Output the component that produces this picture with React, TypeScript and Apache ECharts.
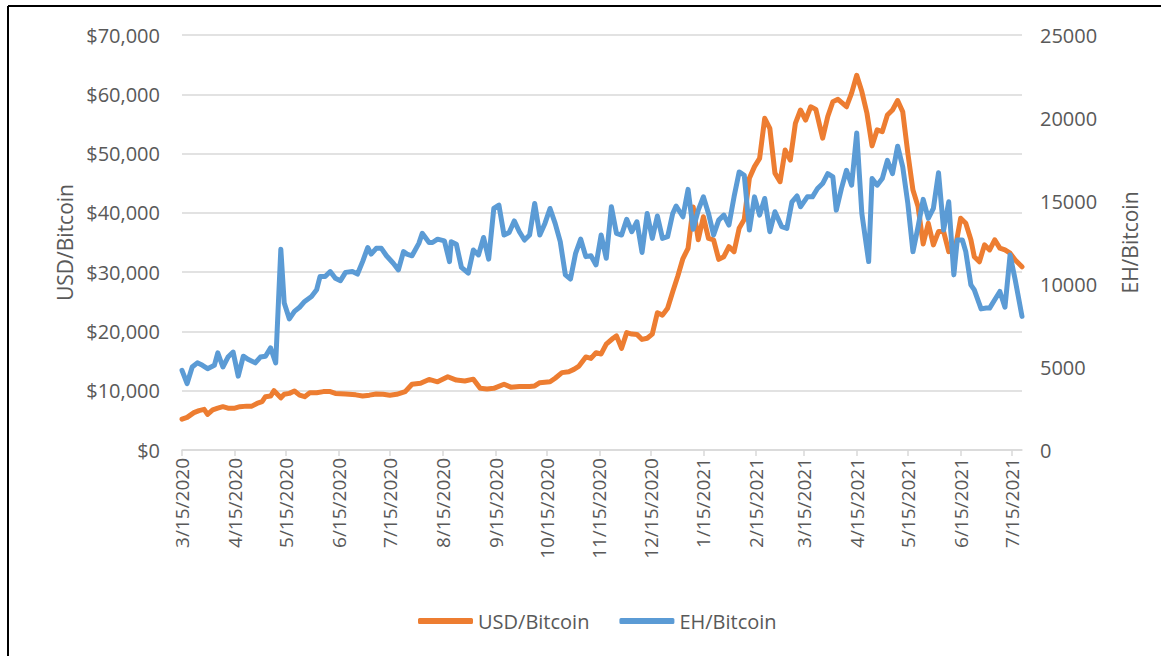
import React, { useEffect, useRef } from "react";
import * as echarts from "echarts";

const USD_DATES = [
  "3/15/2020","3/18/2020","3/22/2020","3/25/2020","3/28/2020","3/30/2020","4/2/2020","4/5/2020","4/8/2020","4/11/2020",
  "4/15/2020","4/18/2020","4/22/2020","4/25/2020","4/28/2020","5/1/2020","5/3/2020","5/6/2020","5/8/2020","5/12/2020",
  "5/14/2020","5/17/2020","5/20/2020","5/23/2020","5/26/2020","5/29/2020","6/2/2020","6/6/2020","6/10/2020","6/13/2020",
  "6/19/2020","6/25/2020","6/29/2020","7/3/2020","7/7/2020","7/11/2020","7/15/2020","7/19/2020","7/24/2020","7/28/2020",
  "8/2/2020","8/7/2020","8/12/2020","8/18/2020","8/23/2020","8/28/2020","9/2/2020","9/6/2020","9/10/2020","9/14/2020",
  "9/20/2020","9/24/2020","9/29/2020","10/5/2020","10/8/2020","10/11/2020","10/17/2020","10/20/2020","10/24/2020","10/28/2020",
  "10/31/2020","11/3/2020","11/7/2020","11/10/2020","11/13/2020","11/16/2020","11/19/2020","11/23/2020","11/25/2020","11/28/2020",
  "12/1/2020","12/4/2020","12/7/2020","12/10/2020","12/13/2020","12/16/2020","12/19/2020","12/22/2020","12/25/2020","12/28/2020",
  "12/31/2020","1/3/2021","1/6/2021","1/9/2021","1/12/2021","1/15/2021","1/18/2021","1/21/2021","1/24/2021","1/27/2021",
  "1/30/2021","2/2/2021","2/5/2021","2/8/2021","2/11/2021","2/14/2021","2/17/2021","2/20/2021","2/23/2021","2/26/2021",
  "3/1/2021","3/4/2021","3/7/2021","3/10/2021","3/13/2021","3/16/2021","3/19/2021","3/22/2021","3/26/2021","3/29/2021",
  "4/1/2021","4/4/2021","4/9/2021","4/12/2021","4/15/2021","4/18/2021","4/21/2021","4/24/2021","4/27/2021","4/30/2021",
  "5/3/2021","5/6/2021","5/9/2021","5/12/2021","5/15/2021","5/18/2021","5/21/2021","5/24/2021","5/27/2021","5/30/2021",
  "6/2/2021","6/5/2021","6/8/2021","6/12/2021","6/15/2021","6/18/2021","6/21/2021","6/23/2021","6/26/2021","6/29/2021",
  "7/2/2021","7/5/2021","7/8/2021","7/11/2021","7/14/2021","7/17/2021","7/21/2021"
];
const USD_VALUES = [
  5200,5500,6300,6650,6850,6000,6750,7050,7300,7050,
  7050,7300,7400,7400,7850,8150,9000,9100,10000,8800,
  9400,9550,9950,9250,9000,9650,9650,9850,9850,9550,
  9450,9300,9100,9250,9450,9400,9250,9400,9850,11100,
  11250,11900,11500,12350,11800,11650,11950,10400,10300,10400,
  11100,10600,10700,10700,10800,11350,11500,12100,13050,13200,
  13600,14150,15700,15450,16400,16200,17850,18850,19250,17150,
  19800,19550,19500,18650,18850,19550,23150,22750,23900,26700,
  29350,32300,34000,41000,35450,39350,35700,35450,32150,32600,
  34300,33450,37400,38900,45850,47800,49200,55950,54250,46700,
  45250,50600,48900,55100,57350,55650,57900,57450,52600,56250,
  58750,59150,57900,60200,63200,60450,56800,51300,54000,53700,
  56500,57350,58950,57050,50050,43850,41050,34750,38250,34600,
  36850,36850,33450,34300,39100,38250,35450,32600,31750,34600,
  33750,35450,34050,33750,33200,32050,30900
];

const EH_DATES = [
  "3/15/2020","3/18/2020","3/21/2020","3/24/2020","3/27/2020","3/30/2020","4/3/2020","4/5/2020","4/8/2020","4/11/2020",
  "4/14/2020","4/17/2020","4/20/2020","4/23/2020","4/27/2020","4/30/2020","5/3/2020","5/6/2020","5/9/2020","5/12/2020",
  "5/14/2020","5/17/2020","5/20/2020","5/23/2020","5/26/2020","5/30/2020","6/2/2020","6/4/2020","6/7/2020","6/10/2020",
  "6/13/2020","6/16/2020","6/19/2020","6/23/2020","6/26/2020","6/29/2020","7/2/2020","7/4/2020","7/7/2020","7/10/2020",
  "7/13/2020","7/17/2020","7/20/2020","7/23/2020","7/25/2020","7/28/2020","8/1/2020","8/3/2020","8/7/2020","8/9/2020",
  "8/12/2020","8/16/2020","8/19/2020","8/20/2020","8/23/2020","8/26/2020","8/30/2020","9/2/2020","9/5/2020","9/8/2020",
  "9/11/2020","9/14/2020","9/17/2020","9/20/2020","9/23/2020","9/26/2020","9/29/2020","10/2/2020","10/5/2020","10/8/2020",
  "10/11/2020","10/14/2020","10/17/2020","10/20/2020","10/23/2020","10/26/2020","10/29/2020","11/1/2020","11/4/2020","11/7/2020",
  "11/10/2020","11/13/2020","11/16/2020","11/19/2020","11/22/2020","11/25/2020","11/28/2020","12/1/2020","12/4/2020","12/7/2020",
  "12/10/2020","12/13/2020","12/16/2020","12/19/2020","12/22/2020","12/25/2020","12/28/2020","12/30/2020","1/3/2021","1/6/2021",
  "1/9/2021","1/12/2021","1/15/2021","1/18/2021","1/21/2021","1/24/2021","1/27/2021","1/30/2021","2/2/2021","2/5/2021",
  "2/8/2021","2/11/2021","2/14/2021","2/17/2021","2/20/2021","2/23/2021","2/26/2021","3/2/2021","3/5/2021","3/8/2021",
  "3/11/2021","3/13/2021","3/17/2021","3/20/2021","3/23/2021","3/26/2021","3/29/2021","4/1/2021","4/3/2021","4/6/2021",
  "4/9/2021","4/12/2021","4/15/2021","4/18/2021","4/22/2021","4/24/2021","4/27/2021","4/30/2021","5/3/2021","5/6/2021",
  "5/9/2021","5/12/2021","5/15/2021","5/18/2021","5/21/2021","5/24/2021","5/27/2021","5/30/2021","6/2/2021","6/5/2021",
  "6/8/2021","6/11/2021","6/13/2021","6/16/2021","6/18/2021","6/21/2021","6/23/2021","6/27/2021","6/30/2021","7/2/2021",
  "7/5/2021","7/8/2021","7/11/2021","7/14/2021","7/17/2021","7/21/2021"
];
const EH_VALUES = [
  4800,4000,5000,5250,5100,4900,5100,5850,5000,5600,
  5900,4450,5650,5450,5250,5600,5650,6150,5250,12100,
  8850,7900,8350,8600,8950,9250,9650,10450,10450,10750,
  10350,10200,10700,10750,10600,11350,12200,11800,12150,12150,
  11700,11250,10850,11950,11800,11700,12450,13050,12500,12500,
  12700,12600,11350,12550,12400,11000,10650,12050,11750,12800,
  11500,14550,14750,12950,13100,13800,13150,12650,12950,14850,
  12950,13650,14550,13650,12550,10550,10300,11850,12700,11650,
  11700,11150,12950,11550,14650,13050,12950,13900,13150,13750,
  11900,14250,12750,14100,12750,12850,14250,14700,14050,15700,
  13300,14450,15250,14250,12950,13850,14150,13550,15250,16750,
  16550,13250,15250,14150,15150,13150,14350,13450,13350,14950,
  15300,14650,15250,15250,15750,16050,16650,16450,14450,15750,
  16850,15950,19100,14250,11350,16350,15950,16350,17450,16650,
  18300,17050,14850,11950,13450,15100,13950,14550,16700,13250,
  14950,10550,12650,12650,11950,9950,9650,8500,8550,8550,
  9050,9550,8600,11750,10250,8050
];

const USD_TICKS = { min: 0, max: 70000, interval: 10000 };
const EH_TICKS = { min: 0, max: 25000, interval: 5000 };
const SERIES_NAMES = ["USD/Bitcoin", "EH/Bitcoin"];

const TEXT = "#595959";
const GRID = "#d9d9d9";
const FONT = "'Open Sans', 'Liberation Sans', sans-serif";

function buildCategories(): string[] {
  const out: string[] = [];
  const start = Date.UTC(2020, 2, 15);
  const end = Date.UTC(2021, 6, 21);
  for (let t = start; t <= end; t += 86400000) {
    const d = new Date(t);
    out.push(`${d.getUTCMonth() + 1}/${d.getUTCDate()}/${d.getUTCFullYear()}`);
  }
  return out;
}

export default function App() {
  const ref = useRef<HTMLDivElement>(null);
  useEffect(() => {
    document.body.style.margin = "0";
    if (!ref.current) return;
    const chart = echarts.init(ref.current, undefined, { renderer: "svg" });
    const categories = buildCategories();
    const idx = new Map<string, number>();
    categories.forEach((c, i) => idx.set(c, i));
    const isMid = (_i: number, v: string) => v.split("/")[1] === "15";
    const usdData = USD_DATES.map((d, i) => [idx.get(d), USD_VALUES[i]]);
    const ehData = EH_DATES.map((d, i) => [idx.get(d), EH_VALUES[i]]);

    chart.setOption({
      animation: false,
      backgroundColor: "#ffffff",
      grid: { left: 182, right: 147, top: 35, bottom: 206 },
      legend: {
        data: SERIES_NAMES,
        left: 413,
        top: 606,
        icon: "roundRect",
        itemWidth: 55,
        itemHeight: 6,
        itemGap: 30,
        textStyle: { color: TEXT, fontSize: 20, fontFamily: FONT },
      },
      xAxis: {
        type: "category",
        data: categories,
        boundaryGap: false,
        axisLine: { lineStyle: { color: GRID, width: 1.5 } },
        axisTick: { show: true, interval: isMid, length: 6, lineStyle: { color: GRID, width: 1.5 } },
        axisLabel: {
          interval: isMid,
          rotate: 90,
          margin: 8,
          color: TEXT,
          fontSize: 19,
          fontFamily: FONT,
        },
        splitLine: { show: false },
      },
      yAxis: [
        {
          type: "value",
          position: "left",
          ...USD_TICKS,
          name: SERIES_NAMES[0],
          nameLocation: "middle",
          nameGap: 106,
          nameTextStyle: { color: TEXT, fontSize: 21, fontFamily: FONT },
          axisLine: { show: false },
          axisTick: { show: false },
          axisLabel: {
            margin: 22,
            color: TEXT,
            fontSize: 20,
            fontFamily: FONT,
            formatter: (v: number) => "$" + v.toLocaleString("en-US"),
          },
          splitLine: { lineStyle: { color: GRID, width: 1.5 } },
        },
        {
          type: "value",
          position: "right",
          ...EH_TICKS,
          name: SERIES_NAMES[1],
          nameLocation: "middle",
          nameGap: 97,
          nameTextStyle: { color: TEXT, fontSize: 21, fontFamily: FONT },
          axisLine: { show: false },
          axisTick: { show: false },
          axisLabel: {
            margin: 18,
            color: TEXT,
            fontSize: 20,
            fontFamily: FONT,
            formatter: (v: number) => String(v),
          },
          splitLine: { show: false },
        },
      ],
      series: [
        {
          name: SERIES_NAMES[0],
          type: "line",
          yAxisIndex: 0,
          data: usdData,
          symbol: "none",
          itemStyle: { color: "#ed7d31" },
          lineStyle: { color: "#ed7d31", width: 5, cap: "round", join: "round" },
          z: 2,
        },
        {
          name: SERIES_NAMES[1],
          type: "line",
          yAxisIndex: 1,
          data: ehData,
          symbol: "none",
          itemStyle: { color: "#5b9bd5" },
          lineStyle: { color: "#5b9bd5", width: 5, cap: "round", join: "round" },
          z: 3,
        },
      ],
      graphic: [
        { type: "line", shape: { x1: 8, y1: 6, x2: 1161, y2: 6 }, style: { stroke: "#000", lineWidth: 2 } },
        { type: "line", shape: { x1: 8, y1: 6, x2: 8, y2: 656 }, style: { stroke: "#000", lineWidth: 2 } },
      ],
    });
    return () => chart.dispose();
  }, []);
  return <div ref={ref} style={{ width: 1169, height: 656 }} />;
}
